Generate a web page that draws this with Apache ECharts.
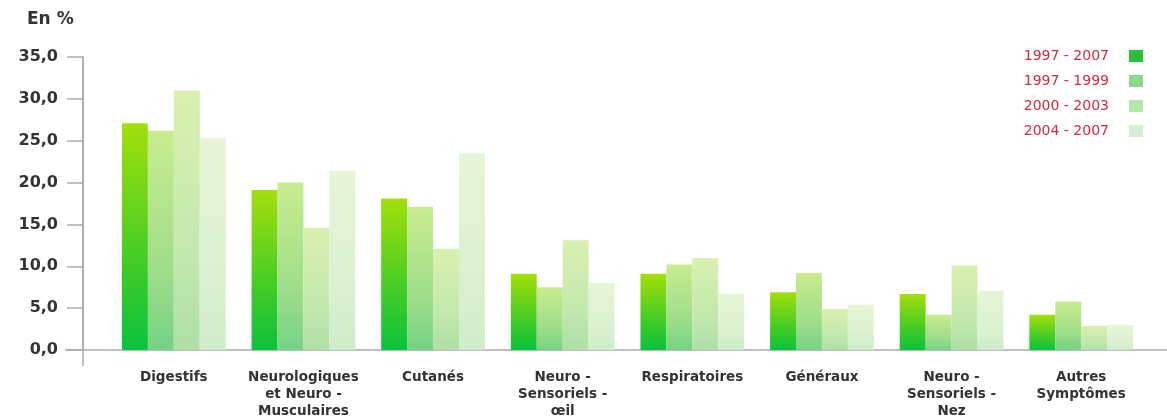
<!DOCTYPE html>
<html>
<head>
<meta charset="utf-8">
<script src="https://cdn.jsdelivr.net/npm/echarts@6/dist/echarts.min.js"></script>
<style>
  html, body { margin: 0; padding: 0; background: #fff; }
  #chart { width: 1167px; height: 420px; }
</style>
</head>
<body>
<div id="chart"></div>
<script>
// Répartition des symptômes par période (en %)
const categories = [
  'Digestifs',
  'Neurologiques\net Neuro -\nMusculaires',
  'Cutanés',
  'Neuro -\nSensoriels -\nœil',
  'Respiratoires',
  'Généraux',
  'Neuro -\nSensoriels -\nNez',
  'Autres\nSymptômes'
];
const periods = ['1997 - 2007', '1997 - 1999', '2000 - 2003', '2004 - 2007'];
const v1997_2007 = [27.1, 19.1, 18.1, 9.1, 9.1, 6.9, 6.7, 4.2];
const v1997_1999 = [26.2, 20.0, 17.1, 7.5, 10.2, 9.2, 4.2, 5.8];
const v2000_2003 = [31.0, 14.6, 12.1, 13.1, 11.0, 4.9, 10.1, 2.9];
const v2004_2007 = [25.3, 21.4, 23.5, 8.0, 6.7, 5.4, 7.1, 3.0];
const seriesValues = [v1997_2007, v1997_1999, v2000_2003, v2004_2007];

// top colour, mid colour, bottom colour, legend swatch
const palettes = [
  ['#a4df0a', '#3ccb28', '#0bc23c', '#2bc23a'],
  ['#c9ec8e', '#9edd8a', '#74d384', '#8cd889'],
  ['#d9f0b0', '#c2e8ad', '#addfa6', '#b3e4a8'],
  ['#e6f5d6', '#daf1d1', '#cfecca', '#d5efcf']
];

const chart = echarts.init(document.getElementById('chart'));

function grad(p) {
  return new echarts.graphic.LinearGradient(0, 0, 0, 1, [
    { offset: 0, color: p[0] },
    { offset: 0.65, color: p[1] },
    { offset: 1, color: p[2] }
  ]);
}

const titleText = {
  type: 'text',
  left: 27,
  top: 11,
  style: { text: 'En %', font: 'bold 17px "DejaVu Sans"', fill: '#333' }
};

const option = {
  backgroundColor: '#ffffff',
  animation: false,
  textStyle: { fontFamily: 'DejaVu Sans' },
  graphic: [titleText],
  legend: {
    orient: 'vertical',
    right: 19,
    top: 44,
    align: 'right',
    itemWidth: 14,
    itemHeight: 12,
    itemGap: 11,
    icon: 'rect',
    data: periods.map((name, i) => ({ name, itemStyle: { color: palettes[i][3] } })),
    textStyle: {
      color: '#d42a3c',
      fontSize: 14,
      fontFamily: 'DejaVu Sans',
      padding: [0, 15, 0, 0]
    }
  },
  grid: { left: 109, right: 21, top: 57, bottom: 66 },
  xAxis: {
    type: 'category',
    data: categories,
    axisLine: { show: false },
    axisTick: { show: false },
    axisLabel: {
      interval: 0,
      margin: 19,
      color: '#333',
      fontSize: 13.5,
      fontWeight: 'bold',
      lineHeight: 17,
      fontFamily: 'DejaVu Sans'
    }
  },
  yAxis: {
    type: 'value',
    min: 0,
    max: 35,
    interval: 5,
    offset: 26,
    splitLine: { show: false },
    axisLine: { show: true, lineStyle: { color: '#aaa', width: 1.5 } },
    axisTick: { show: true, length: 16, lineStyle: { color: '#aaa', width: 1.5 } },
    axisLabel: {
      margin: 25,
      color: '#333',
      fontSize: 16,
      fontWeight: 'bold',
      fontFamily: 'DejaVu Sans',
      formatter: v => v.toFixed(1).replace('.', ',')
    }
  },
  series: seriesValues.map((vals, i) => ({
    name: periods[i],
    type: 'bar',
    data: vals,
    barGap: '0%',
    barCategoryGap: '20%',
    itemStyle: { color: grad(palettes[i]) }
  }))
};

chart.setOption(option);

// axis baseline across the whole width and the y-axis line continued below zero
const zeroY = chart.convertToPixel({ yAxisIndex: 0 }, 0);
const topY = chart.convertToPixel({ yAxisIndex: 0 }, 35);
const axisX = 109 - 26;
chart.setOption({
  graphic: [
    titleText,
    {
      type: 'line',
      shape: { x1: axisX - 18, y1: zeroY, x2: 1167, y2: zeroY },
      style: { stroke: '#aaa', lineWidth: 1.5 },
      z: 1
    },
    {
      type: 'line',
      shape: { x1: axisX, y1: topY, x2: axisX, y2: zeroY + 16 },
      style: { stroke: '#aaa', lineWidth: 1.5 },
      z: 1
    }
  ]
});
</script>
</body>
</html>
